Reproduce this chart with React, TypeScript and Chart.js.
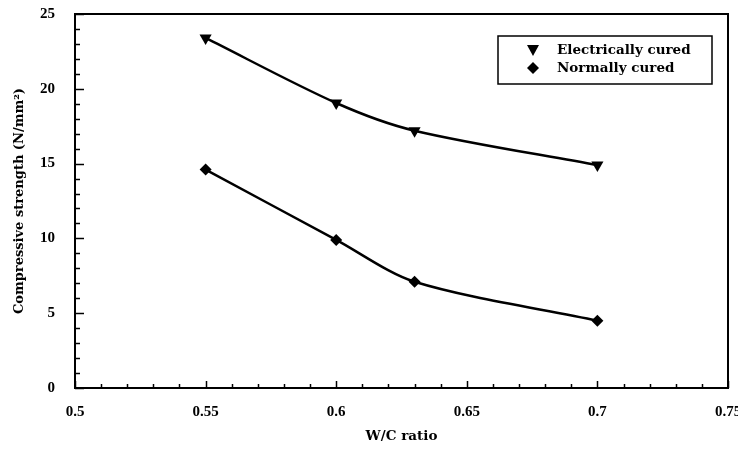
import React, { useEffect, useRef } from "react";
import { Chart, registerables } from "chart.js";

Chart.register(...registerables);

const wcRatio = [0.55, 0.6, 0.63, 0.7];
const electricallyCured = [23.4, 19.05, 17.2, 14.9];
const normallyCured = [14.6, 9.9, 7.1, 4.5];
const seriesLabels = ["Electrically cured", "Normally cured"];
const xTitle = "W/C ratio";
const yTitle = "Compressive strength (N/mm\u00B2)";

const FONT = "'DejaVu Serif', 'Liberation Serif', serif";
const TICKFONT = "'Liberation Serif', 'DejaVu Serif', serif";

const framePlugin = {
  id: "frameTicks",
  afterDraw(chart: any) {
    const { ctx, chartArea: a, scales } = chart;
    const xs = scales.x;
    const ys = scales.y;
    ctx.save();
    ctx.strokeStyle = "#000";
    ctx.lineWidth = 2;
    ctx.strokeRect(a.left, a.top, a.right - a.left, a.bottom - a.top);
    ctx.lineWidth = 1.5;
    for (let v = 0; v <= 25; v += 1) {
      const py = Math.round(ys.getPixelForValue(v)) + 0.5;
      const len = v % 5 === 0 ? 9 : 5;
      ctx.beginPath();
      ctx.moveTo(a.left, py);
      ctx.lineTo(a.left + len, py);
      ctx.stroke();
    }
    for (let i = 0; i <= 25; i++) {
      const v = 0.5 + i * 0.01;
      const px = Math.round(xs.getPixelForValue(v)) + 0.5;
      const len = i % 5 === 0 ? 7 : 4;
      ctx.beginPath();
      ctx.moveTo(px, a.bottom);
      ctx.lineTo(px, a.bottom - len);
      ctx.stroke();
    }
    const box = { l: 498, t: 36, r: 712, b: 84 };
    ctx.lineWidth = 1.5;
    ctx.strokeRect(box.l, box.t, box.r - box.l, box.b - box.t);
    ctx.font = `bold 13.5px ${FONT}`;
    ctx.fillStyle = "#000";
    ctx.textBaseline = "middle";
    ctx.textAlign = "left";
    const rows = [50, 68];
    const sx = 533;
    ctx.beginPath();
    ctx.moveTo(sx - 6, rows[0] - 5);
    ctx.lineTo(sx + 6, rows[0] - 5);
    ctx.lineTo(sx, rows[0] + 6);
    ctx.closePath();
    ctx.fill();
    ctx.beginPath();
    ctx.moveTo(sx, rows[1] - 6);
    ctx.lineTo(sx + 6, rows[1]);
    ctx.lineTo(sx, rows[1] + 6);
    ctx.lineTo(sx - 6, rows[1]);
    ctx.closePath();
    ctx.fill();
    ctx.fillText(chart.data.datasets[0].label, 557, rows[0]);
    ctx.fillText(chart.data.datasets[1].label, 557, rows[1]);
    ctx.restore();
  },
};

export default function App() {
  const ref = useRef<HTMLCanvasElement | null>(null);
  useEffect(() => {
    if (!ref.current) return;
    const mk = (vals: number[]) => wcRatio.map((x, i) => ({ x, y: vals[i] }));
    const chart = new Chart(ref.current, {
      type: "line",
      data: {
        datasets: [
          {
            label: seriesLabels[0],
            data: mk(electricallyCured),
            borderColor: "#000",
            backgroundColor: "#000",
            borderWidth: 2.5,
            pointStyle: "triangle",
            rotation: 180,
            pointRadius: 7,
            pointBorderWidth: 0,
            tension: 0.3,
          },
          {
            label: seriesLabels[1],
            data: mk(normallyCured),
            borderColor: "#000",
            backgroundColor: "#000",
            borderWidth: 2.5,
            pointStyle: "rectRot",
            pointRadius: 6,
            pointBorderWidth: 0,
            tension: 0.3,
          },
        ],
      },
      options: {
        animation: false,
        responsive: false,
        layout: { padding: { left: 0, top: 14, right: 10, bottom: 0 } },
        plugins: { legend: { display: false }, tooltip: { enabled: false } },
        scales: {
          x: {
            type: "linear",
            min: 0.5,
            max: 0.75,
            grid: { display: false },
            border: { display: false },
            afterFit: (s: any) => {
              s.height = 61;
              s.paddingLeft = 0;
              s.paddingRight = 0;
            },
            ticks: {
              stepSize: 0.05,
              padding: 7,
              color: "#000",
              font: { family: TICKFONT, size: 15, weight: "bold" },
              callback: (v: any) => Number(Number(v).toFixed(2)).toString(),
            },
            title: {
              display: true,
              text: xTitle,
              color: "#000",
              font: { family: FONT, size: 13.5, weight: "bold" },
              padding: { top: 4, bottom: 4 },
            },
          },
          y: {
            min: 0,
            max: 25,
            grid: { display: false },
            border: { display: false },
            afterFit: (s: any) => {
              s.width = 75;
              s.paddingTop = 0;
              s.paddingBottom = 0;
            },
            ticks: {
              stepSize: 5,
              padding: 12,
              color: "#000",
              font: { family: TICKFONT, size: 15, weight: "bold" },
            },
            title: {
              display: true,
              text: yTitle,
              color: "#000",
              font: { family: FONT, size: 13, weight: "bold" },
              padding: { top: 12, bottom: 0 },
            },
          },
        },
      },
      plugins: [framePlugin],
    } as any);
    return () => chart.destroy();
  }, []);
  return (
    <div style={{ position: "fixed", left: 0, top: 0, width: 738, height: 449, background: "#fff" }}>
      <canvas ref={ref} width={738} height={449} />
    </div>
  );
}
